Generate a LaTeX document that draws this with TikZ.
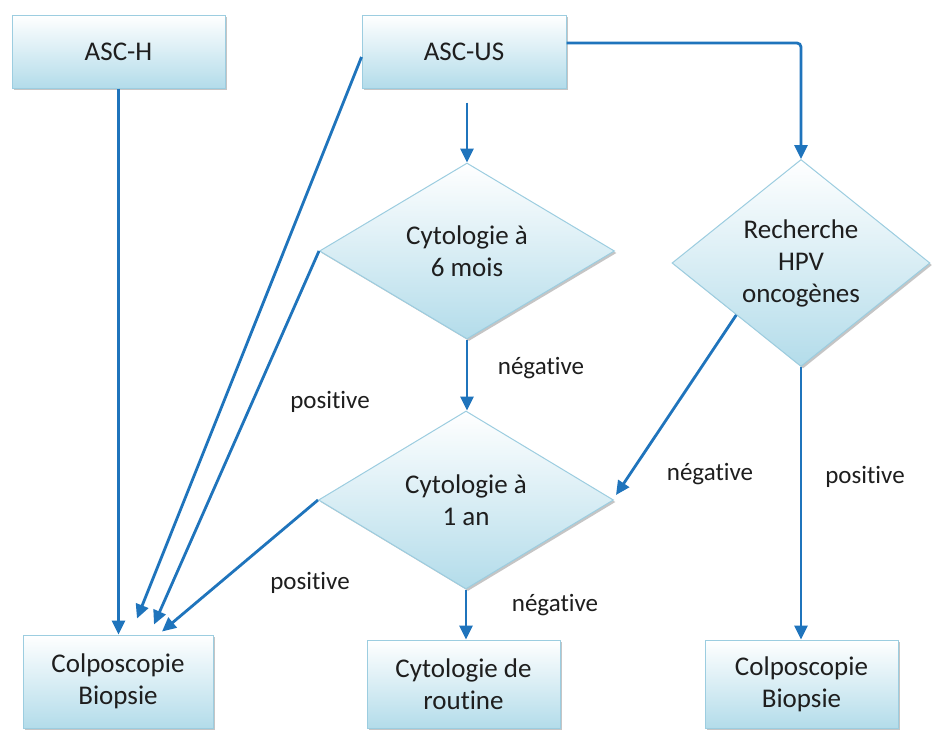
\documentclass[tikz,border=0pt]{standalone}
\usepackage{fontspec}
\setmainfont{Carlito}[Ligatures=NoCommon]
\usetikzlibrary{shapes.geometric,arrows.meta,shadows,calc}
\definecolor{arr}{HTML}{1F74BC}
\definecolor{bord}{HTML}{9CCDE0}
\definecolor{fillb}{HTML}{B3DCEA}
\definecolor{txt}{HTML}{1E1E1E}
\tikzset{
  shade/.style={draw=bord, line width=1pt, top color=white, bottom color=fillb,
    drop shadow={shadow xshift=2pt, shadow yshift=-2pt, fill=black!45, opacity=0.5},
    align=center, text=txt, font=\fontsize{27}{32}\selectfont},
  box/.style={shade, rectangle, inner sep=0pt},
  dec/.style={shade, diamond, inner sep=0pt},
  conn/.style={draw=arr, line width=2.8pt, -{Triangle[length=14pt,width=13pt]}},
  lab/.style={text=txt, font=\fontsize{25}{30}\selectfont, inner sep=0pt}
}
\begin{document}
\begin{tikzpicture}[x=1pt,y=-1pt]
\useasboundingbox (0,0) rectangle (933,731);
\fill[white] (0,0) rectangle (933,731);

% boxes
\node[box, minimum width=213pt, minimum height=73pt] (ascH) at (118.5,51.5) {ASC-H};
\node[box, minimum width=204pt, minimum height=73pt] (ascUS) at (464,51.5) {ASC-US};
\node[box, minimum width=190pt, minimum height=93pt] (colpoL) at (118,681.5) {Colposcopie\\Biopsie};
\node[box, minimum width=193pt, minimum height=88pt] (routine) at (463.5,684) {Cytologie de\\routine};
\node[box, minimum width=193pt, minimum height=88pt] (colpoR) at (801.5,684) {Colposcopie\\Biopsie};

% diamonds
\node[dec, aspect=1.68, minimum width=295pt, minimum height=176pt] (d1) at (467,251) {Cytologie à\\6 mois};
\node[dec, aspect=1.68, minimum width=295pt, minimum height=178pt] (d2) at (466,500) {Cytologie à\\1 an};
\node[dec, aspect=1.25, minimum width=258pt, minimum height=207pt] (d3) at (801,263) {Recherche\\HPV\\oncogènes};

% connectors
\draw[conn] (ascH.south) -- (ascH.south |- colpoL.north);
\draw[conn, shorten <=14pt] (ascUS.south -| d1.north) -- (d1.north);
\draw[conn, rounded corners=4pt] ([yshift=8.5pt]ascUS.east) -| (d3.north);
\draw[conn] ([yshift=-5.5pt]ascUS.west) -- ([xshift=19pt,yshift=16pt]colpoL.north);
\draw[conn] (d1.west) -- ([xshift=36pt,yshift=10pt]colpoL.north);
\draw[conn] (d2.west) -- ([xshift=44pt,yshift=3pt]colpoL.north);
\draw[conn] (d1.south) -- (d1.south |- d2.north);
\draw[conn] (d2.south) -- (d2.south |- routine.north);
\draw[conn] (d3.south) -- (d3.south |- colpoR.north);
\draw[conn] ($(d3.west)!0.5!(d3.south)$) -- ([xshift=2pt,yshift=5pt]d2.east);

% labels
\node[lab] (l1) at (541,368) {négative};
\node[lab] (l2) at (330,402) {positive};
\node[lab] (l3) at (710,474) {négative};
\node[lab] (l4) at (865,477) {positive};
\node[lab] (l5) at (310,583) {positive};
\node[lab] (l6) at (555,605) {négative};
\end{tikzpicture}
\end{document}
